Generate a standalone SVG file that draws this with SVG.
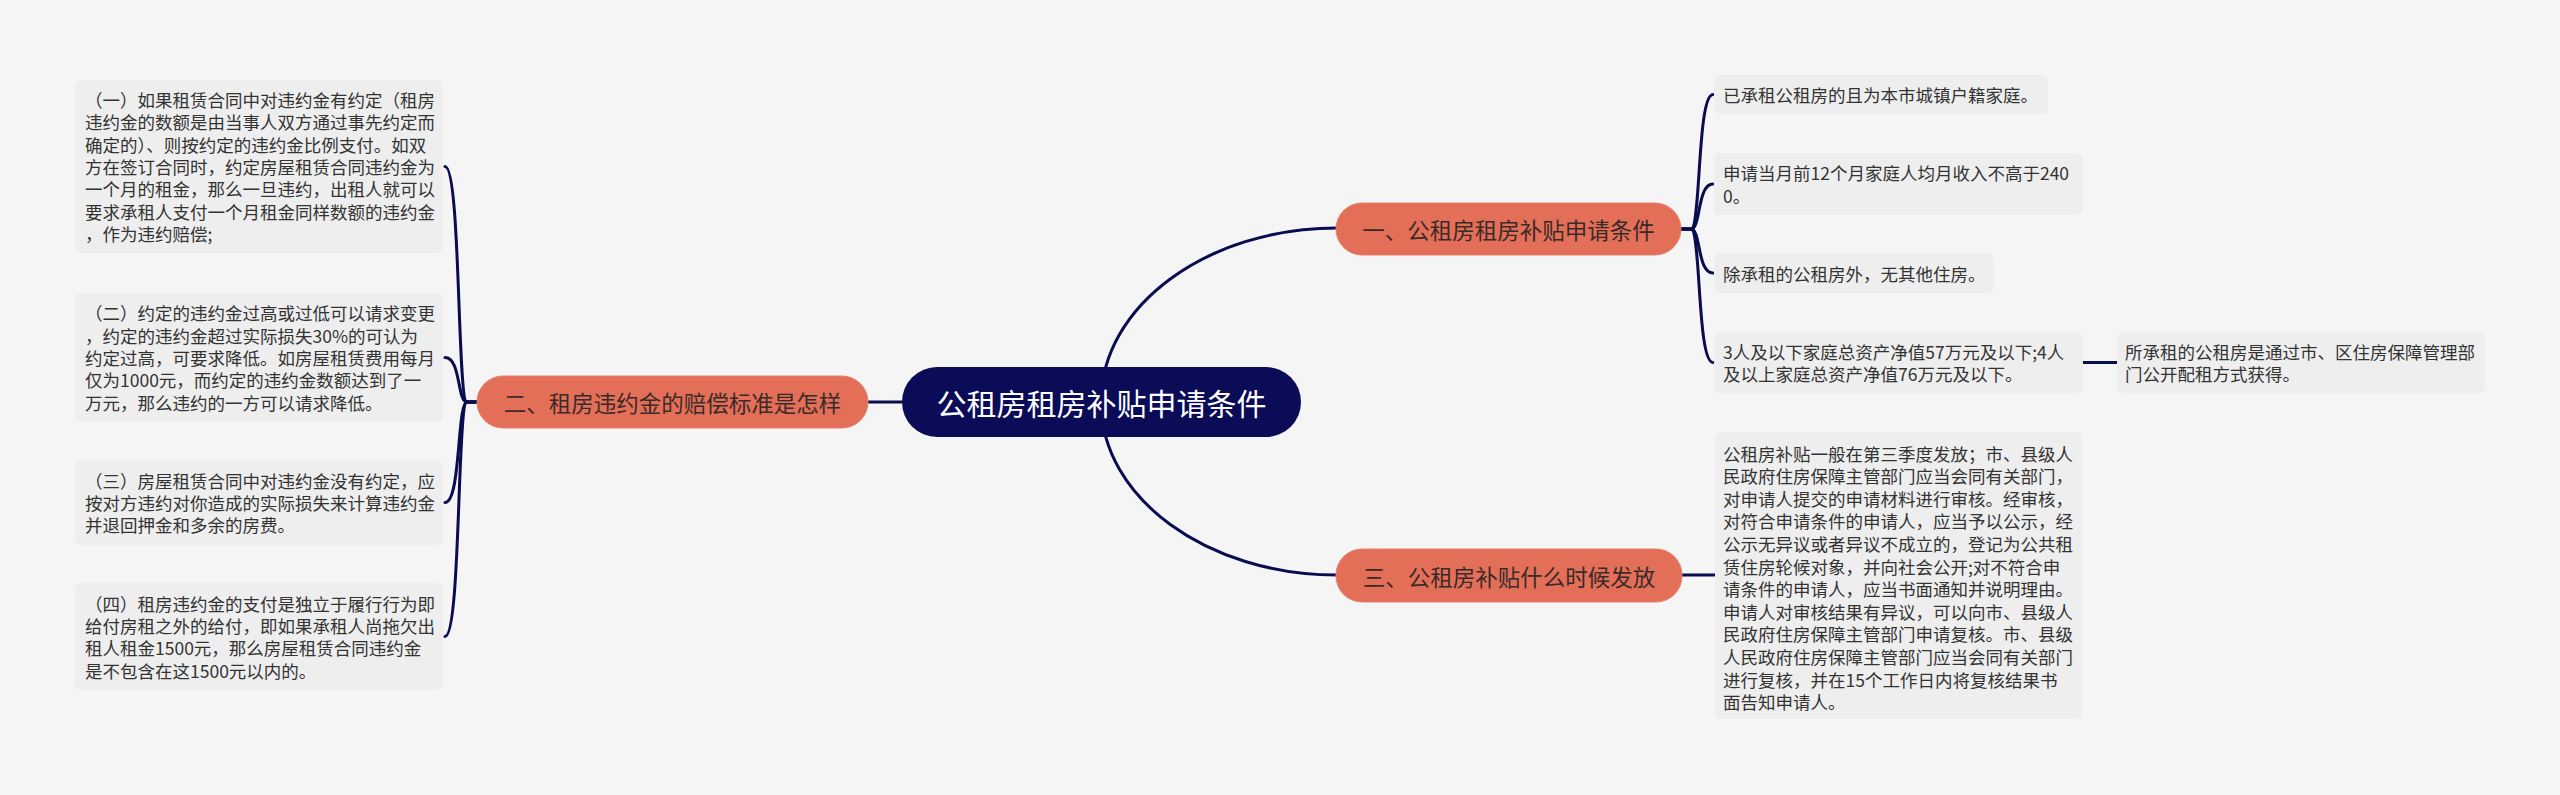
<svg xmlns="http://www.w3.org/2000/svg" width="2560" height="795" viewBox="0 0 2560 795">
<style>
text { font-family: "Noto Sans CJK SC", "Noto Sans", sans-serif; dominant-baseline: central; }
.leaf { fill: #eeeeee; }
.lt { font-size: 17.5px; fill: #333333; }
.br { fill: #e36f58; stroke: #e6806b; stroke-width: 1; }
.bt { font-size: 22.5px; fill: #3a2a28; text-anchor: middle; }
.root { fill: #0a0c57; }
.rt { font-size: 30px; fill: #ffffff; text-anchor: middle; }
.c { fill: none; stroke: #0a0c50; stroke-width: 3; stroke-linecap: round; }
</style>
<rect width="2560" height="795" fill="#f5f5f5"/>
<g id="connectors">
<path class="c" d="M1101 402 C1101 306 1207 228 1337 228"/>
<path class="c" d="M1101 402 C1101 498 1207 575 1337 575"/>
<path class="c" d="M902 402 H868"/>
<path class="c" d="M477 402 H467 C457 402 461 166.5 445 166.5"/>
<path class="c" d="M477 402 H467 C457 402 461 357.5 445 357.5"/>
<path class="c" d="M477 402 H467 C457 402 461 502.5 445 502.5"/>
<path class="c" d="M477 402 H467 C457 402 461 636.5 445 636.5"/>
<path class="c" d="M1681 229 H1691 C1701 229 1697 94.5 1713 94.5"/>
<path class="c" d="M1681 229 H1691 C1701 229 1697 184 1713 184"/>
<path class="c" d="M1681 229 H1691 C1701 229 1697 273 1713 273"/>
<path class="c" d="M1681 229 H1691 C1701 229 1697 362.5 1713 362.5"/>
<path class="c" d="M1682 575 H1715"/>
<path class="c" d="M2083 362.5 H2117"/>
</g>
<g id="root">
<rect class="root" x="902" y="367" width="399" height="70" rx="35"/>
<text class="rt" x="1101.5" y="402">公租房租房补贴申请条件</text>
</g>
<g id="branch1">
<rect class="br" x="1336" y="203" width="345" height="52" rx="26"/>
<text class="bt" x="1508.5" y="229">一、公租房租房补贴申请条件</text>
</g>
<g id="branch2">
<rect class="br" x="477" y="376" width="391" height="52" rx="26"/>
<text class="bt" x="672.5" y="402">二、租房违约金的赔偿标准是怎样</text>
</g>
<g id="branch3">
<rect class="br" x="1336" y="549" width="346" height="53" rx="26"/>
<text class="bt" x="1509" y="575.5">三、公租房补贴什么时候发放</text>
</g>
<g id="leaf1a">
<rect class="leaf" x="1714" y="75" width="334" height="39" rx="6"/>
<text class="lt" x="1723" y="94.5">已承租公租房的且为本市城镇户籍家庭。</text>
</g>
<g id="leaf1b">
<rect class="leaf" x="1714" y="153" width="369" height="62" rx="6"/>
<text class="lt" x="1723" y="172.8">申请当月前12个月家庭人均月收入不高于240</text>
<text class="lt" x="1723" y="195.2">0。</text>
</g>
<g id="leaf1c">
<rect class="leaf" x="1714" y="253" width="280" height="40" rx="6"/>
<text class="lt" x="1723" y="273">除承租的公租房外，无其他住房。</text>
</g>
<g id="leaf1d">
<rect class="leaf" x="1714" y="332" width="369" height="61" rx="6"/>
<text class="lt" x="1723" y="351.3">3人及以下家庭总资产净值57万元及以下;4人</text>
<text class="lt" x="1723" y="373.7">及以上家庭总资产净值76万元及以下。</text>
</g>
<g id="leaf1d1">
<rect class="leaf" x="2117" y="332" width="368" height="61" rx="6"/>
<text class="lt" x="2125" y="351.3">所承租的公租房是通过市、区住房保障管理部</text>
<text class="lt" x="2125" y="373.7">门公开配租方式获得。</text>
</g>
<g id="leaf3">
<rect class="leaf" x="1715" y="432" width="367" height="287" rx="6"/>
<text class="lt" x="1723" y="453">公租房补贴一般在第三季度发放；市、县级人</text>
<text class="lt" x="1723" y="475.6">民政府住房保障主管部门应当会同有关部门，</text>
<text class="lt" x="1723" y="498.2">对申请人提交的申请材料进行审核。经审核，</text>
<text class="lt" x="1723" y="520.8">对符合申请条件的申请人，应当予以公示，经</text>
<text class="lt" x="1723" y="543.4">公示无异议或者异议不成立的，登记为公共租</text>
<text class="lt" x="1723" y="566">赁住房轮候对象，并向社会公开;对不符合申</text>
<text class="lt" x="1723" y="588.6">请条件的申请人，应当书面通知并说明理由。</text>
<text class="lt" x="1723" y="611.2">申请人对审核结果有异议，可以向市、县级人</text>
<text class="lt" x="1723" y="633.8">民政府住房保障主管部门申请复核。市、县级</text>
<text class="lt" x="1723" y="656.4">人民政府住房保障主管部门应当会同有关部门</text>
<text class="lt" x="1723" y="679">进行复核，并在15个工作日内将复核结果书</text>
<text class="lt" x="1723" y="701.6">面告知申请人。</text>
</g>
<g id="leaf2a">
<rect class="leaf" x="75" y="80" width="368" height="173" rx="6"/>
<text class="lt" x="85" y="99.6">（一）如果租赁合同中对违约金有约定（租房</text>
<text class="lt" x="85" y="121.9">违约金的数额是由当事人双方通过事先约定而</text>
<text class="lt" x="85" y="144.2">确定的）、则按约定的违约金比例支付。如双</text>
<text class="lt" x="85" y="166.5">方在签订合同时，约定房屋租赁合同违约金为</text>
<text class="lt" x="85" y="188.8">一个月的租金，那么一旦违约，出租人就可以</text>
<text class="lt" x="85" y="211.1">要求承租人支付一个月租金同样数额的违约金</text>
<text class="lt" x="85" y="233.4">，作为违约赔偿;</text>
</g>
<g id="leaf2b">
<rect class="leaf" x="75" y="293" width="368" height="129" rx="6"/>
<text class="lt" x="85" y="312.9">（二）约定的违约金过高或过低可以请求变更</text>
<text class="lt" x="85" y="335.2">，约定的违约金超过实际损失30%的可认为</text>
<text class="lt" x="85" y="357.5">约定过高，可要求降低。如房屋租赁费用每月</text>
<text class="lt" x="85" y="379.8">仅为1000元，而约定的违约金数额达到了一</text>
<text class="lt" x="85" y="402.1">万元，那么违约的一方可以请求降低。</text>
</g>
<g id="leaf2c">
<rect class="leaf" x="75" y="460" width="368" height="85" rx="6"/>
<text class="lt" x="85" y="480.2">（三）房屋租赁合同中对违约金没有约定，应</text>
<text class="lt" x="85" y="502.5">按对方违约对你造成的实际损失来计算违约金</text>
<text class="lt" x="85" y="524.8">并退回押金和多余的房费。</text>
</g>
<g id="leaf2d">
<rect class="leaf" x="75" y="583" width="368" height="107" rx="6"/>
<text class="lt" x="85" y="603">（四）租房违约金的支付是独立于履行行为即</text>
<text class="lt" x="85" y="625.3">给付房租之外的给付，即如果承租人尚拖欠出</text>
<text class="lt" x="85" y="647.7">租人租金1500元，那么房屋租赁合同违约金</text>
<text class="lt" x="85" y="670">是不包含在这1500元以内的。</text>
</g>
</svg>
